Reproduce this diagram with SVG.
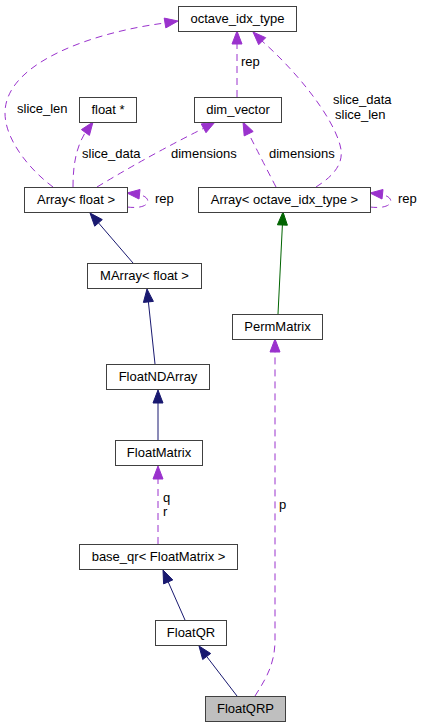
<svg xmlns="http://www.w3.org/2000/svg" width="422" height="728" viewBox="0 0 422 728">
<style>
.box{fill:#ffffff;stroke:#404040;stroke-width:1}
.hl{fill:#bfbfbf;stroke:#404040;stroke-width:1}
text{font-family:"Liberation Sans",Arial,sans-serif;font-size:13px;fill:#000}
.c{text-anchor:middle}
.u{fill:none;stroke:#9a32cd;stroke-width:1;stroke-dasharray:7,5}
.ua{fill:#9a32cd;stroke:#9a32cd}
.n{fill:none;stroke:#191970;stroke-width:1}
.na{fill:#191970;stroke:#191970}
.g{fill:none;stroke:#006400;stroke-width:1}
.ga{fill:#006400;stroke:#006400}
</style>
<rect width="422" height="728" fill="#ffffff"/>
<g id="edges">
<path class="u" d="M237,97 L237,44"/>
<polygon class="ua" points="237,31 232,44 242,44"/>
<text x="241" y="66">rep</text>
<path class="u" d="M53,187 C30,170 5,140 5,113 C5,62 95,32 165,23"/>
<polygon class="ua" points="178,21 165.8,27.9 164.2,18.1"/>
<text x="17" y="113">slice_len</text>
<path class="u" d="M73,187 C73,165 76,148 85,133"/>
<polygon class="ua" points="93,122 89.4,135.4 81.4,129.6"/>
<text x="82" y="158">slice_data</text>
<path class="u" d="M97,187 Q150,155 203.6,128.3"/>
<polygon class="ua" points="215,122 206,132.7 201.2,123.9"/>
<text x="171" y="158">dimensions</text>
<path class="u" d="M276,187 Q262,160 248.7,133.7"/>
<polygon class="ua" points="243,122 253.2,131.5 244.2,135.9"/>
<text x="269" y="158">dimensions</text>
<path class="u" d="M316,187 C335,175 345,162 340,145 C332,115 295,70 262,41"/>
<polygon class="ua" points="253,32 265.7,37.7 258.7,44.7"/>
<text x="333" y="104">slice_data</text>
<text x="335" y="119">slice_len</text>
<path class="u" d="M127,207 C152,210 152,197 140,195"/>
<polygon class="ua" points="127,193 140,189.5 139,199"/>
<text x="155" y="203">rep</text>
<path class="u" d="M370,207 C395,210 395,197 383,195"/>
<polygon class="ua" points="370,193 383,189.5 382,199"/>
<text x="398" y="203">rep</text>
<path class="n" d="M133,263 L98.5,222.9"/>
<polygon class="na" points="90,213 102.3,219.6 94.7,226.2"/>
<path class="n" d="M155,364 L148.4,301.9"/>
<polygon class="na" points="147,289 153.4,301.4 143.4,302.4"/>
<path class="g" d="M278,314 L282.4,225"/>
<polygon class="ga" points="283,212 287.4,225.2 277.4,224.8"/>
<path class="n" d="M158,440 L158,403"/>
<polygon class="na" points="158,390 163,403 153,403"/>
<path class="u" d="M158,544 L158,479"/>
<polygon class="ua" points="158,466 163,479 153,479"/>
<text x="163" y="502">q</text>
<text x="163" y="516">r</text>
<path class="n" d="M185,620 L168.2,581.9"/>
<polygon class="na" points="163,570 172.8,579.9 163.6,583.9"/>
<path class="n" d="M237,696 L206.7,656.5"/>
<polygon class="na" points="199,646 210.7,653.5 202.7,659.5"/>
<path class="u" d="M255,696 C265,680 275,665 275,640 L275,352"/>
<polygon class="ua" points="275,339 280,352 270,352"/>
<text x="279" y="509">p</text>
</g>
<g id="octave_idx_type"><rect class="box" x="178.5" y="6.5" width="118" height="25"/><text class="c" x="237.5" y="23">octave_idx_type</text></g>
<g id="float_ptr"><rect class="box" x="79.5" y="97.5" width="57" height="25"/><text class="c" x="108" y="114">float *</text></g>
<g id="dim_vector"><rect class="box" x="194.5" y="97.5" width="87" height="25"/><text class="c" x="238" y="114">dim_vector</text></g>
<g id="Array_float"><rect class="box" x="24.5" y="187.5" width="103" height="25"/><text class="c" x="76" y="204">Array&lt; float &gt;</text></g>
<g id="Array_octave_idx_type"><rect class="box" x="198.5" y="187.5" width="172" height="25"/><text class="c" x="284.5" y="204">Array&lt; octave_idx_type &gt;</text></g>
<g id="MArray_float"><rect class="box" x="87.5" y="263.5" width="114" height="25"/><text class="c" x="144.5" y="280">MArray&lt; float &gt;</text></g>
<g id="PermMatrix"><rect class="box" x="232.5" y="314.5" width="90" height="25"/><text class="c" x="277.5" y="331">PermMatrix</text></g>
<g id="FloatNDArray"><rect class="box" x="106.5" y="364.5" width="103" height="25"/><text class="c" x="158" y="381">FloatNDArray</text></g>
<g id="FloatMatrix"><rect class="box" x="115.5" y="440.5" width="87" height="25"/><text class="c" x="159" y="457">FloatMatrix</text></g>
<g id="base_qr_FloatMatrix"><rect class="box" x="79.5" y="544.5" width="158" height="25"/><text class="c" x="158.5" y="561">base_qr&lt; FloatMatrix &gt;</text></g>
<g id="FloatQR"><rect class="box" x="155.5" y="620.5" width="71" height="25"/><text class="c" x="191" y="637">FloatQR</text></g>
<g id="FloatQRP"><rect class="hl" x="205.5" y="696.5" width="80" height="25"/><text class="c" x="245.5" y="713">FloatQRP</text></g>
</svg>
